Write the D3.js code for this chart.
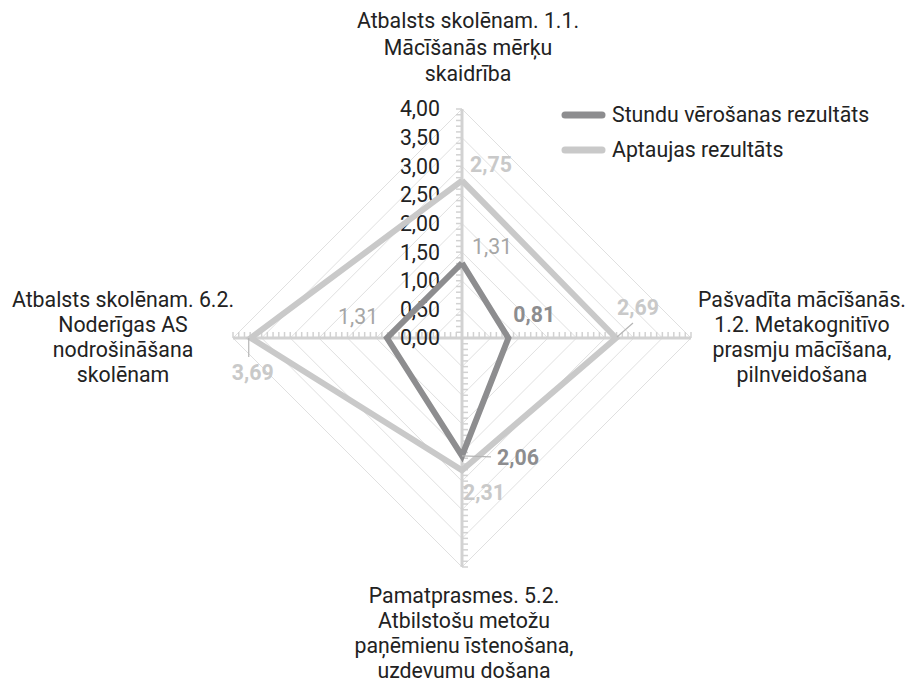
<!DOCTYPE html>
<html>
<head>
<meta charset="utf-8">
<script src="https://cdn.jsdelivr.net/npm/d3@7"></script>
<style>
  html, body { margin: 0; padding: 0; background: #fff; }
  svg { display: block; font-family: Roboto, "Noto Sans", sans-serif; }
</style>
</head>
<body>
<svg id="chart" width="911" height="683"></svg>
<script>
// Radar axes (clockwise from the top)
const categories = [
  ["Atbalsts skolēnam. 1.1.", "Mācīšanās mērķu", "skaidrība"],
  ["Pašvadīta mācīšanās.", "1.2. Metakognitīvo", "prasmju mācīšana,", "pilnveidošana"],
  ["Pamatprasmes. 5.2.", "Atbilstošu metožu", "paņēmienu īstenošana,", "uzdevumu došana"],
  ["Atbalsts skolēnam. 6.2.", "Noderīgas AS", "nodrošināšana", "skolēnam"]
];
const seriesNames = ["Stundu vērošanas rezultāts", "Aptaujas rezultāts"];
const observationValues = [1.31, 0.81, 2.06, 1.31];
const surveyValues = [2.75, 2.69, 2.31, 3.69];
const tickValues = [0, 0.5, 1, 1.5, 2, 2.5, 3, 3.5, 4];

const FS = 21.3;
const svg = d3.select("#chart");
const cx = 462, cy = 338, R = 229;
const r = d3.scaleLinear().domain([0, 4]).range([0, R]);
const angle = i => -Math.PI / 2 + i * Math.PI / 2;
const pt = (i, v) => [cx + r(v) * Math.cos(angle(i)), cy + r(v) * Math.sin(angle(i))];
const fmt = v => d3.format(".2f")(v).replace(".", ",");

const colDark = "#8d8d8f", colLight = "#c9c9c9", axisCol = "#d2d2d2";

// grid rings
const g = svg.append("g");
tickValues.filter(v => v > 0).forEach(v => {
  g.append("path")
    .attr("d", d3.line()(d3.range(5).map(i => pt(i % 4, v))))
    .attr("fill", "none").attr("stroke", "#e0e0e0").attr("stroke-width", 1);
});

// axes with minor ticks (top: left side, right/left: above, bottom: right side)
const minor = d3.range(0, 4.0001, 0.1);
const tickDir = [[-1, 0], [0, -1], [1, 0], [0, -1]];
categories.forEach((c, i) => {
  const [x2, y2] = pt(i, 4);
  g.append("line").attr("x1", cx).attr("y1", cy).attr("x2", x2).attr("y2", y2)
    .attr("stroke", axisCol).attr("stroke-width", 3);
  const [nx, ny] = tickDir[i];
  minor.forEach(v => {
    const [px, py] = pt(i, v);
    g.append("line")
      .attr("x1", px).attr("y1", py)
      .attr("x2", px + nx * 6).attr("y2", py + ny * 6)
      .attr("stroke", axisCol).attr("stroke-width", 1.5);
  });
});

// value axis labels
svg.append("g").selectAll("text").data(tickValues).join("text")
  .attr("x", cx - 22).attr("y", d => cy - r(d)).attr("dy", "0.35em")
  .attr("text-anchor", "end").attr("font-size", FS).attr("fill", "#222")
  .text(d => fmt(d));

// series polygons
const series = [
  { name: seriesNames[1], values: surveyValues, color: colLight },
  { name: seriesNames[0], values: observationValues, color: colDark }
];
series.forEach(s => {
  svg.append("path")
    .attr("d", d3.line()(d3.range(5).map(i => pt(i % 4, s.values[i % 4]))))
    .attr("fill", "none").attr("stroke", s.color).attr("stroke-width", 6)
    .attr("stroke-linejoin", "miter");
});

// data labels: offsets from the point, weight, and optional leader line
const obsLabelPos = [
  { dx: 10, dy: -16, bold: false, color: "#a6a6a6" },
  { dx: 5, dy: -23, bold: true, color: colDark },
  { dx: 35, dy: 2, bold: true, color: colDark, leader: [[0, 0], [29, 1]] },
  { dx: -49, dy: -21, bold: false, color: "#a6a6a6" }
];
const surveyLabelPos = [
  { dx: 8, dy: -16, bold: true, color: colLight },
  { dx: 1, dy: -30, bold: true, color: colLight, leader: [[1, -1], [17, -15]] },
  { dx: 1, dy: 22, bold: true, color: colLight },
  { dx: -19, dy: 35, bold: true, color: colLight, leader: [[-2, 0], [-2, 19]] }
];
function drawLabels(values, pos) {
  values.forEach((v, i) => {
    const [px, py] = pt(i, v);
    const p = pos[i];
    if (p.leader) {
      svg.append("line")
        .attr("x1", px + p.leader[0][0]).attr("y1", py + p.leader[0][1])
        .attr("x2", px + p.leader[1][0]).attr("y2", py + p.leader[1][1])
        .attr("stroke", "#b5b5b5").attr("stroke-width", 1.2);
    }
    svg.append("text")
      .attr("x", px + p.dx).attr("y", py + p.dy).attr("dy", "0.35em")
      .attr("text-anchor", "start").attr("font-size", FS)
      .attr("font-weight", p.bold ? 700 : 400).attr("fill", p.color)
      .text(fmt(v));
  });
}
drawLabels(surveyValues, surveyLabelPos);
drawLabels(observationValues, obsLabelPos);

// category labels
const catPos = [
  { x: 468, y: 21, lh: 26.5 },
  { x: 802, y: 300, lh: 25 },
  { x: 464, y: 596, lh: 25 },
  { x: 123, y: 300, lh: 25 }
];
categories.forEach((lines, i) => {
  const t = svg.append("text").attr("text-anchor", "middle")
    .attr("font-size", FS).attr("fill", "#222");
  lines.forEach((l, k) => {
    t.append("tspan").attr("x", catPos[i].x).attr("y", catPos[i].y + k * catPos[i].lh)
      .attr("dy", "0.35em").text(l);
  });
});

// legend
const legend = svg.append("g");
[[seriesNames[0], colDark], [seriesNames[1], colLight]].forEach(([name, col], k) => {
  const y = 115 + k * 35;
  legend.append("line").attr("x1", 565).attr("x2", 602).attr("y1", y).attr("y2", y)
    .attr("stroke", col).attr("stroke-width", 7).attr("stroke-linecap", "round");
  legend.append("text").attr("x", 612).attr("y", y).attr("dy", "0.35em")
    .attr("font-size", FS).attr("fill", "#222").text(name);
});
</script>
</body>
</html>
